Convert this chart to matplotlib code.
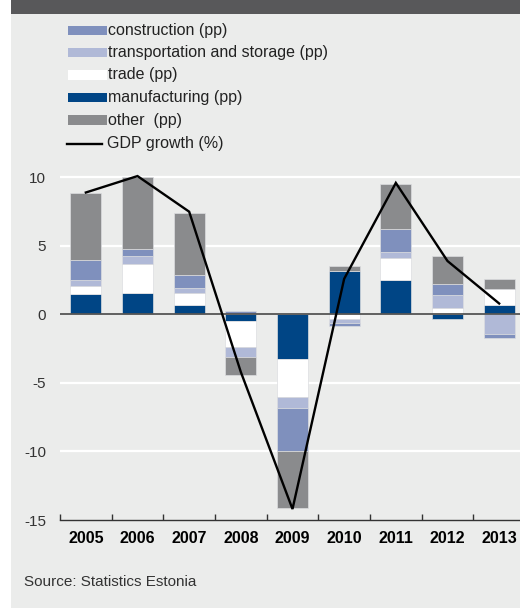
import matplotlib
matplotlib.use("Agg")
import matplotlib.pyplot as plt
from matplotlib.patches import Rectangle
from matplotlib.lines import Line2D
import numpy as np

plt.rcParams['font.family'] = ['Liberation Sans', 'DejaVu Sans']

years = ["2005", "2006", "2007", "2008", "2009", "2010", "2011", "2012", "2013"]
manufacturing = [1.5, 1.6, 0.7, -0.45, -3.25, 3.15, 2.5, -0.3, 0.7]
trade = [0.6, 2.05, 0.85, -1.9, -2.75, -0.3, 1.65, 0.5, 1.15]
transport = [0.4, 0.6, 0.4, -0.75, -0.85, -0.3, 0.4, 0.95, -1.4]
construction = [1.5, 0.55, 0.9, 0.27, -3.15, -0.25, 1.65, 0.75, -0.35]
other = [4.85, 5.2, 4.55, -1.35, -4.1, 0.35, 3.35, 2.05, 0.75]
gdp = [8.9, 10.1, 7.5, -4.2, -14.2, 2.6, 9.6, 3.9, 0.8]

series = [
    ("manufacturing (pp)", manufacturing, "#004585"),
    ("trade (pp)", trade, "#ffffff"),
    ("transportation and storage (pp)", transport, "#b0b9d7"),
    ("construction (pp)", construction, "#7f90bd"),
    ("other  (pp)", other, "#8a8b8d"),
]

W, H = 520, 610
fig = plt.figure(figsize=(W / 100, H / 100), dpi=100)
fig.patch.set_facecolor("white")

def fx(px):
    return px / W

def fy(py):
    return 1 - py / H

# panel background and top band
fig.add_artist(Rectangle((fx(11), fy(608)), fx(520) - fx(11), fy(14) - fy(608),
                         transform=fig.transFigure, facecolor="#ebeceb", edgecolor="none", zorder=0))
fig.add_artist(Rectangle((fx(11), fy(14)), fx(520) - fx(11), fy(0) - fy(14),
                         transform=fig.transFigure, facecolor="#58585a", edgecolor="none", zorder=0))

# axes: x from 60 to 525 px, y: -15 at 520 px, 0 at 315 px
ppu = 13.75
ymin, ymax = -15, 11.5
ytop = 315 - ymax * ppu
ax = fig.add_axes([fx(60), fy(520), (525 - 60) / W, (520 - ytop) / H])
ax.set_facecolor("none")
ax.set_xlim(-0.5, 8.5)
ax.set_ylim(ymin, ymax)

x = np.arange(len(years))
pos = np.zeros(len(years))
neg = np.zeros(len(years))
for name, vals, col in series:
    v = np.array(vals)
    bottoms = np.where(v >= 0, pos, neg)
    ax.bar(x, v, bottom=bottoms, width=0.6, color=col, edgecolor="#dcdde0",
           linewidth=0.5, zorder=3)
    pos = pos + np.where(v >= 0, v, 0)
    neg = neg + np.where(v < 0, v, 0)

for g in [-10, -5, 5, 10]:
    ax.axhline(g, color="white", lw=1.6, zorder=1)
ax.axhline(0, color="#555555", lw=1.3, zorder=4)

ax.plot(x, gdp, color="black", lw=1.7, zorder=5, solid_joinstyle="miter")

for s in ["top", "right", "left"]:
    ax.spines[s].set_visible(False)
ax.spines["bottom"].set_color("#333333")
ax.spines["bottom"].set_linewidth(1.0)

ax.set_yticks([-15, -10, -5, 0, 5, 10])
ax.set_yticklabels(["-15", "-10", "-5", "0", "5", "10"])
ax.tick_params(axis="y", length=0, pad=10, labelsize=11, labelcolor="#333333")
ax.set_xticks(np.arange(-0.5, 8.5, 1.0))
ax.set_xticklabels([])
ax.set_xticks(x, minor=True)
ax.set_xticklabels(years, minor=True, fontweight="bold", fontsize=11.5)
ax.tick_params(axis="x", which="major", direction="in", length=4, width=1, color="#333333")
ax.tick_params(axis="x", which="minor", length=0, pad=8)

# legend
leg_rows = [
    ("construction (pp)", "#7f90bd", 30.7),
    ("transportation and storage (pp)", "#b0b9d7", 52.3),
    ("trade (pp)", "#ffffff", 75.0),
    ("manufacturing (pp)", "#004585", 97.7),
    ("other  (pp)", "#8a8b8d", 120.0),
]
for label, col, yc in leg_rows:
    fig.add_artist(Rectangle((fx(68), fy(yc + 4.5)), fx(39), fy(0) - fy(9),
                             transform=fig.transFigure, facecolor=col, edgecolor="none"))
    fig.text(fx(108), fy(yc), label, fontsize=11.5, color="#222222", va="center", ha="left")
fig.add_artist(Line2D([fx(67), fx(102)], [fy(144), fy(144)], transform=fig.transFigure,
                      color="black", lw=1.7))
fig.text(fx(107), fy(144), "GDP growth (%)", fontsize=11.5, color="#222222", va="center", ha="left")

fig.text(fx(24), fy(582), "Source: Statistics Estonia", fontsize=11, color="#333333",
         va="center", ha="left")

fig.savefig("out.png", dpi=100)
